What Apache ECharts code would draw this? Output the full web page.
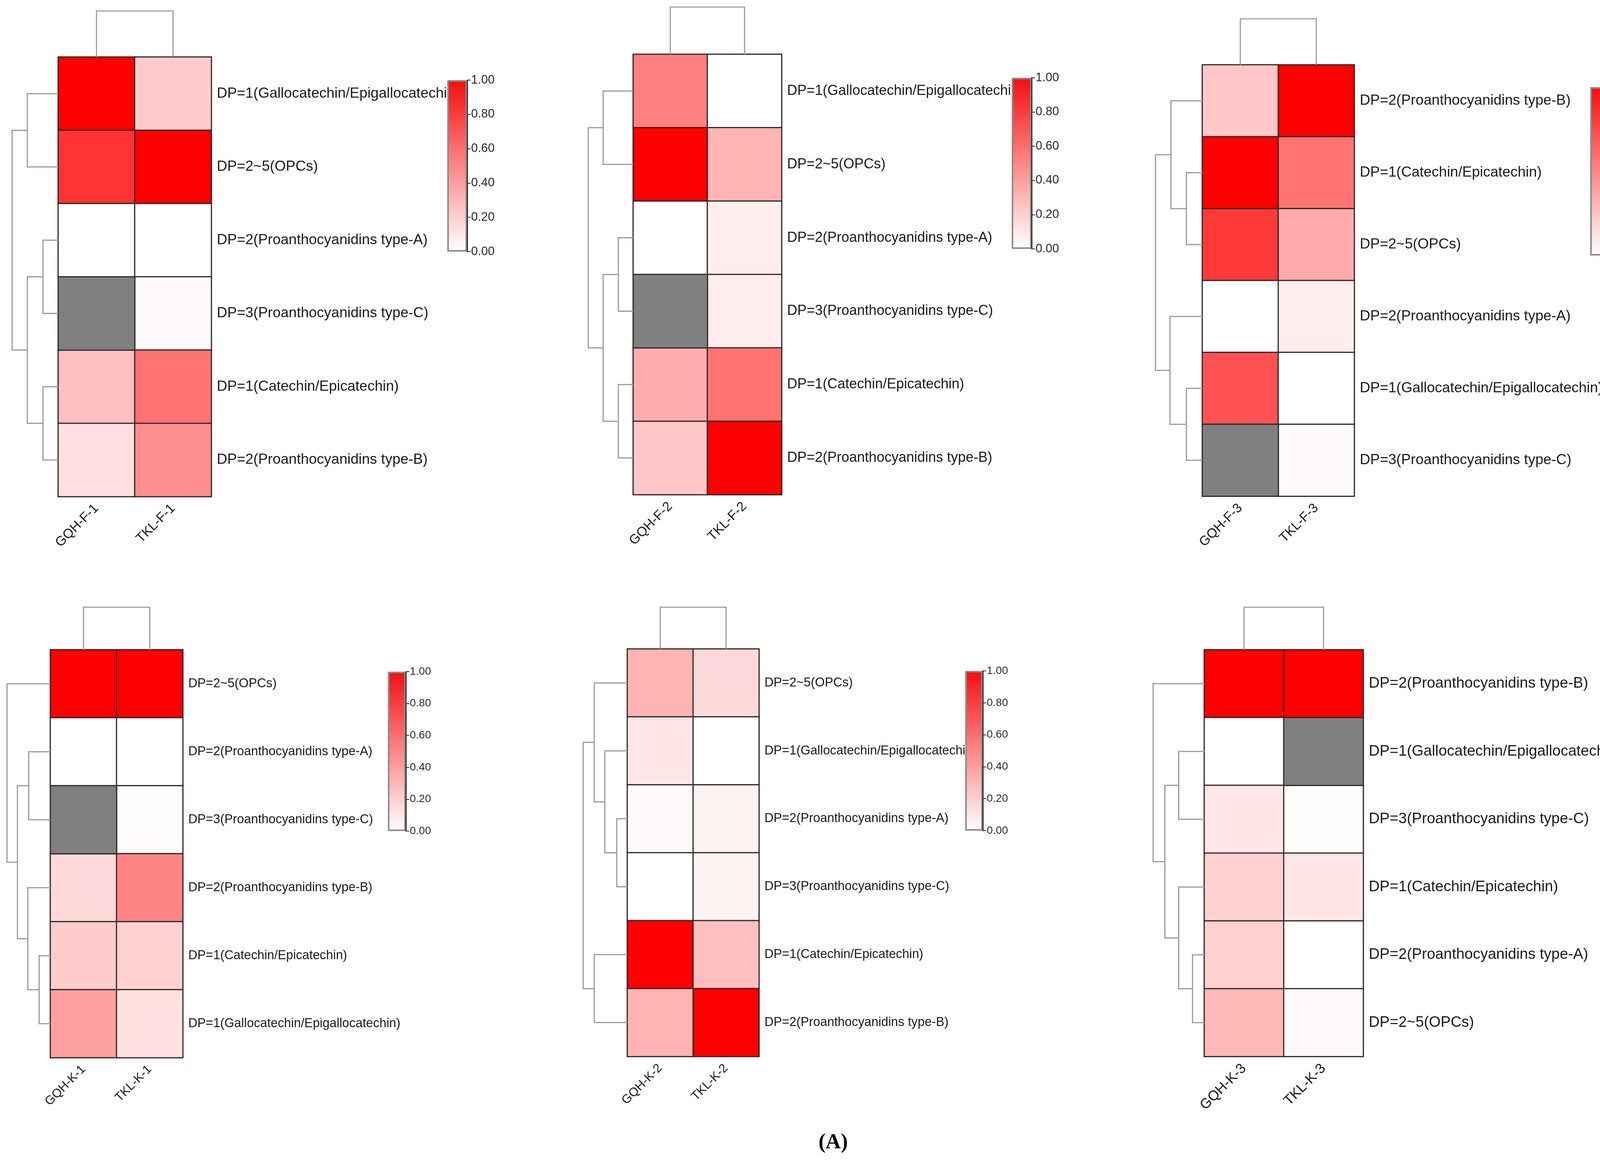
<!DOCTYPE html>
<html><head><meta charset="utf-8">
<script src="https://cdn.jsdelivr.net/npm/echarts@6.0.0/dist/echarts.min.js"></script>
<style>html,body{margin:0;padding:0;background:#fff}#c{width:4266px;height:2974px}</style>
</head><body><div id="c"></div>
<script>
// ---------- DATA ----------
const cols1 = ['GQH-F-1', 'TKL-F-1'];
const cols2 = ['GQH-F-2', 'TKL-F-2'];
const cols3 = ['GQH-F-3', 'TKL-F-3'];
const cols4 = ['GQH-K-1', 'TKL-K-1'];
const cols5 = ['GQH-K-2', 'TKL-K-2'];
const cols6 = ['GQH-K-3', 'TKL-K-3'];

const rows1 = ['DP=1(Gallocatechin/Epigallocatechin)', 'DP=2~5(OPCs)', 'DP=2(Proanthocyanidins type-A)', 'DP=3(Proanthocyanidins type-C)', 'DP=1(Catechin/Epicatechin)', 'DP=2(Proanthocyanidins type-B)'];
const rows2 = ['DP=1(Gallocatechin/Epigallocatechin)', 'DP=2~5(OPCs)', 'DP=2(Proanthocyanidins type-A)', 'DP=3(Proanthocyanidins type-C)', 'DP=1(Catechin/Epicatechin)', 'DP=2(Proanthocyanidins type-B)'];
const rows3 = ['DP=2(Proanthocyanidins type-B)', 'DP=1(Catechin/Epicatechin)', 'DP=2~5(OPCs)', 'DP=2(Proanthocyanidins type-A)', 'DP=1(Gallocatechin/Epigallocatechin)', 'DP=3(Proanthocyanidins type-C)'];
const rows4 = ['DP=2~5(OPCs)', 'DP=2(Proanthocyanidins type-A)', 'DP=3(Proanthocyanidins type-C)', 'DP=2(Proanthocyanidins type-B)', 'DP=1(Catechin/Epicatechin)', 'DP=1(Gallocatechin/Epigallocatechin)'];
const rows5 = ['DP=2~5(OPCs)', 'DP=1(Gallocatechin/Epigallocatechin)', 'DP=2(Proanthocyanidins type-A)', 'DP=3(Proanthocyanidins type-C)', 'DP=1(Catechin/Epicatechin)', 'DP=2(Proanthocyanidins type-B)'];
const rows6 = ['DP=2(Proanthocyanidins type-B)', 'DP=1(Gallocatechin/Epigallocatechin)', 'DP=3(Proanthocyanidins type-C)', 'DP=1(Catechin/Epicatechin)', 'DP=2(Proanthocyanidins type-A)', 'DP=2~5(OPCs)'];

// values per row: [GQH, TKL]; null = not available (grey cell)
const vals1 = [[1.00, 0.20], [0.80, 1.00], [0.00, 0.00], [null, 0.02], [0.25, 0.55], [0.12, 0.44]];
const vals2 = [[0.50, 0.00], [1.00, 0.30], [0.00, 0.07], [null, 0.07], [0.32, 0.55], [0.22, 1.00]];
const vals3 = [[0.22, 1.00], [1.00, 0.55], [0.78, 0.33], [0.00, 0.07], [0.68, 0.00], [null, 0.02]];
const vals4 = [[1.00, 1.00], [0.00, 0.00], [null, 0.01], [0.15, 0.48], [0.20, 0.18], [0.38, 0.12]];
const vals5 = [[0.30, 0.15], [0.10, 0.00], [0.02, 0.05], [0.00, 0.05], [1.00, 0.25], [0.30, 1.00]];
const vals6 = [[1.00, 1.00], [0.00, null], [0.10, 0.01], [0.18, 0.10], [0.18, 0.00], [0.28, 0.02]];

// row dendrograms: merges [nodeA, nodeB, height]; leaves 0..5, new nodes numbered from 6
const dendro1 = [[2, 3, 0.33], [4, 5, 0.33], [0, 1, 0.67], [6, 7, 0.67], [8, 9, 1.0]];
const dendro2 = [[2, 3, 0.33], [4, 5, 0.33], [0, 1, 0.67], [6, 7, 0.67], [8, 9, 1.0]];
const dendro3 = [[1, 2, 0.34], [4, 5, 0.34], [0, 6, 0.67], [3, 7, 0.69], [8, 9, 1.0]];
const dendro4 = [[1, 2, 0.50], [4, 5, 0.26], [3, 7, 0.52], [6, 8, 0.76], [0, 9, 1.0]];
const dendro5 = [[2, 3, 0.24], [1, 6, 0.51], [0, 7, 0.75], [4, 5, 0.75], [8, 9, 1.0]];
const dendro6 = [[1, 2, 0.50], [4, 5, 0.23], [3, 7, 0.50], [6, 8, 0.77], [0, 9, 1.0]];
// column dendrogram (two samples)
const colDendro = [[0, 1, 1.0]];

const scaleMin = 0;
const scaleMax = 1;
const scaleStep = 0.2;

// ---------- LAYOUT ----------
const FONT = '"Liberation Sans", Arial, sans-serif';
const layouts = [
  {hx: 149,  hy: 146,  hw: 392, hh: 1125, dw: 118, ch: 118, cb: [1145, 205, 51, 439], fs: 37,   xfs: 34, cfs: 31},
  {hx: 1621, hy: 139,  hw: 380, hh: 1127, dw: 115, ch: 121, cb: [2590, 199, 51, 438], fs: 36,   xfs: 34, cfs: 31},
  {hx: 3078, hy: 166,  hw: 389, hh: 1104, dw: 120, ch: 118, cb: [4071, 223, 51, 431], fs: 37,   xfs: 34, cfs: 32},
  {hx: 129,  hy: 1663, hw: 339, hh: 1044, dw: 111, ch: 109, cb: [993, 1719, 46, 408],  fs: 32.3, xfs: 31.5, cfs: 28},
  {hx: 1606, hy: 1661, hw: 337, hh: 1043, dw: 113, ch: 107, cb: [2471, 1717, 45, 409], fs: 32.3, xfs: 31.5, cfs: 28},
  {hx: 3083, hy: 1663, hw: 407, hh: 1041, dw: 131, ch: 109, cb: [4118, 1717, 53, 410], fs: 38.5, xfs: 36, cfs: 35}
];

const panels = [
  {cols: cols1, rows: rows1, vals: vals1, dendro: dendro1},
  {cols: cols2, rows: rows2, vals: vals2, dendro: dendro2},
  {cols: cols3, rows: rows3, vals: vals3, dendro: dendro3},
  {cols: cols4, rows: rows4, vals: vals4, dendro: dendro4},
  {cols: cols5, rows: rows5, vals: vals5, dendro: dendro5},
  {cols: cols6, rows: rows6, vals: vals6, dendro: dendro6}
];

function dendroLines(merges, nLeaves, vertical) {
  const pos = [];
  for (let i = 0; i < nLeaves; i++) pos.push({p: i, h: 0});
  const out = [];
  merges.forEach(([a, b, h]) => {
    const A = pos[a], B = pos[b];
    let pts = [[A.h, A.p], [h, A.p], [h, B.p], [B.h, B.p]];
    if (vertical) pts = pts.map(([x, y]) => [y, x]);
    out.push({coords: pts});
    pos.push({p: (A.p + B.p) / 2, h: h});
  });
  return out;
}

const grid = [], xAxis = [], yAxis = [], series = [], mainIdx = [], naIdx = [];
const hidden = {show: false};
const lineStyleDendro = {color: '#9a9a9a', width: 3, opacity: 1};

panels.forEach((p, i) => {
  const L = layouts[i];
  // heatmap grid
  let g = grid.length;
  grid.push({left: L.hx, top: L.hy, width: L.hw, height: L.hh});
  xAxis.push({type: 'category', gridIndex: g, data: p.cols, position: 'bottom',
    axisLine: hidden, axisTick: hidden, splitLine: hidden,
    axisLabel: {interval: 0, rotate: 45, fontSize: L.xfs, color: '#1a1a1a', margin: 25, fontFamily: FONT}});
  yAxis.push({type: 'category', gridIndex: g, data: p.rows, inverse: true, position: 'right',
    axisLine: hidden, axisTick: hidden, splitLine: hidden,
    axisLabel: {interval: 0, fontSize: L.fs, color: '#1a1a1a', margin: 14, fontFamily: FONT}});
  const main = [], na = [];
  p.vals.forEach((r, ri) => r.forEach((v, ci) => {
    if (v === null) na.push([ci, ri, 1]); else main.push([ci, ri, v]);
  }));
  mainIdx.push(series.length);
  series.push({type: 'heatmap', xAxisIndex: g, yAxisIndex: g, data: main, silent: true,
    itemStyle: {borderColor: '#2e2626', borderWidth: 3}});
  naIdx.push(series.length);
  series.push({type: 'heatmap', xAxisIndex: g, yAxisIndex: g, data: na, silent: true,
    itemStyle: {color: '#808080', borderColor: '#2e2626', borderWidth: 3}});

  // row dendrogram grid
  g = grid.length;
  grid.push({left: L.hx - L.dw, top: L.hy, width: L.dw, height: L.hh});
  xAxis.push({type: 'value', gridIndex: g, min: 0, max: 1, inverse: true, show: false});
  yAxis.push({type: 'value', gridIndex: g, min: -0.5, max: p.rows.length - 0.5, inverse: true, show: false});
  series.push({type: 'lines', coordinateSystem: 'cartesian2d', xAxisIndex: g, yAxisIndex: g,
    polyline: true, silent: true, data: dendroLines(p.dendro, p.rows.length, false), lineStyle: lineStyleDendro});

  // column dendrogram grid
  g = grid.length;
  grid.push({left: L.hx, top: L.hy - L.ch, width: L.hw, height: L.ch});
  xAxis.push({type: 'value', gridIndex: g, min: -0.5, max: p.cols.length - 0.5, show: false});
  yAxis.push({type: 'value', gridIndex: g, min: 0, max: 1, show: false});
  series.push({type: 'lines', coordinateSystem: 'cartesian2d', xAxisIndex: g, yAxisIndex: g,
    polyline: true, silent: true, data: dendroLines(colDendro, p.cols.length, true), lineStyle: lineStyleDendro});

  // colour bar grid
  g = grid.length;
  grid.push({left: L.cb[0], top: L.cb[1], width: L.cb[2], height: L.cb[3]});
  xAxis.push({type: 'category', gridIndex: g, data: [''], show: false});
  yAxis.push({type: 'value', gridIndex: g, min: scaleMin, max: scaleMax, interval: scaleStep, position: 'right',
    z: 6, splitLine: hidden,
    axisLine: {show: true, lineStyle: {color: '#3a2c2c', width: 3}},
    axisTick: {show: true, length: 9, lineStyle: {color: '#3a2c2c', width: 2}},
    axisLabel: {fontSize: L.cfs, color: '#2a2a2a', margin: 10, fontFamily: FONT, formatter: v => v.toFixed(2)}});
  series.push({type: 'bar', xAxisIndex: g, yAxisIndex: g, data: [scaleMax], barWidth: '100%', silent: true, z: 5,
    itemStyle: {borderColor: '#8c8c8c', borderWidth: 4,
      color: new echarts.graphic.LinearGradient(0, 0, 0, 1, [{offset: 0, color: '#F50F0F'}, {offset: 1, color: '#FFFFFF'}])}});
});

const chart = echarts.init(document.getElementById('c'));
chart.setOption({
  animation: false,
  backgroundColor: '#fff',
  title: {
    text: '{p|(}{b|A}{p|)}', left: 'center', top: 2893,
    textStyle: {rich: {
      p: {fontSize: 54, fontFamily: '"Liberation Serif", "Times New Roman", serif', color: '#000'},
      b: {fontSize: 54, fontFamily: '"Liberation Serif", "Times New Roman", serif', color: '#000', fontWeight: 'bold'}
    }}
  },
  grid, xAxis, yAxis,
  visualMap: [
    {type: 'continuous', show: false, min: scaleMin, max: scaleMax, seriesIndex: mainIdx, inRange: {color: ['#FFFFFF', '#FF0000']}},
    {type: 'continuous', show: false, min: 0, max: 1, seriesIndex: naIdx, inRange: {color: ['#808080', '#808080']}}
  ],
  series
});
</script></body></html>
